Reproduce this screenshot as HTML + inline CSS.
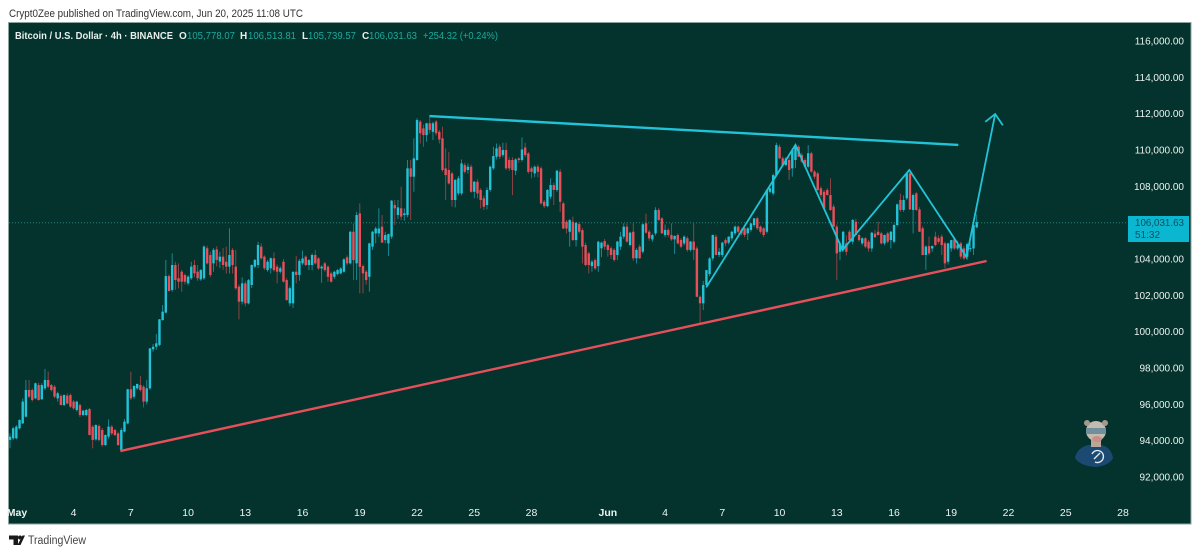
<!DOCTYPE html>
<html lang="en">
<head>
<meta charset="utf-8">
<title>Bitcoin / U.S. Dollar 4h chart</title>
<style>
html,body{margin:0;padding:0;background:#fff;width:1200px;height:554px;overflow:hidden}
svg{display:block}
text{font-family:"Liberation Sans","DejaVu Sans",sans-serif}
</style>
</head>
<body>
<svg id="chart" xmlns="http://www.w3.org/2000/svg" width="1200" height="554" viewBox="0 0 1200 554">
  <defs>
    <filter id="soften" x="-5%" y="-5%" width="110%" height="110%"><feGaussianBlur stdDeviation="0.35"/></filter>
  </defs>
  <text x="9" y="17" font-size="11" fill="#333" textLength="294" lengthAdjust="spacingAndGlyphs">Crypt0Zee published on TradingView.com, Jun 20, 2025 11:08 UTC</text>
  <rect x="8.5" y="22.5" width="1182.5" height="501.5" fill="#03332c" stroke="#8aa5a0" stroke-width="1"/>
  <g id="price-line-layer"></g>
  <g id="candles" filter="url(#soften)"></g>
  <g id="drawings" filter="url(#soften)"></g>
  <g id="y-axis"></g>
  <g id="x-axis"></g>
  <g font-size="10" font-weight="bold">
    <text x="15" y="39" fill="#e8efee" textLength="158" lengthAdjust="spacingAndGlyphs">Bitcoin / U.S. Dollar · 4h · BINANCE</text>
    <text x="179" y="39" fill="#e8efee">O</text>
    <text x="187" y="39" fill="#1fa89e" font-weight="normal" textLength="48" lengthAdjust="spacingAndGlyphs">105,778.07</text>
    <text x="240" y="39" fill="#e8efee">H</text>
    <text x="248" y="39" fill="#1fa89e" font-weight="normal" textLength="48" lengthAdjust="spacingAndGlyphs">106,513.81</text>
    <text x="302" y="39" fill="#e8efee">L</text>
    <text x="308" y="39" fill="#1fa89e" font-weight="normal" textLength="48" lengthAdjust="spacingAndGlyphs">105,739.57</text>
    <text x="362" y="39" fill="#e8efee">C</text>
    <text x="369" y="39" fill="#1fa89e" font-weight="normal" textLength="48" lengthAdjust="spacingAndGlyphs">106,031.63</text>
    <text x="423" y="39" fill="#1fa89e" font-weight="normal" textLength="75" lengthAdjust="spacingAndGlyphs">+254.32 (+0.24%)</text>
  </g>
  <g>
    <rect x="1128" y="216" width="61" height="26" fill="#0bb6d0"/>
    <text x="1135" y="226" font-size="10" fill="#0b5060" textLength="49" lengthAdjust="spacingAndGlyphs">106,031.63</text>
    <text x="1135" y="238" font-size="10" fill="#0b5060">51:32</text>
  </g>
  <g filter="url(#soften)">
    <path d="M1075 458 Q1077 448 1088 445 L1101 445 Q1111 447 1113 458 Q1110 465 1096 467 Q1080 466 1075 458 Z" fill="#1d4a72"/>
    <rect x="1091" y="439" width="10" height="8" fill="#b9a79c"/>
    <ellipse cx="1096" cy="431" rx="10" ry="10" fill="#c4bab0"/>
    <circle cx="1087" cy="423" r="3" fill="#a8988c"/>
    <circle cx="1105" cy="423" r="3" fill="#a8988c"/>
    <rect x="1086" y="428" width="20" height="6" rx="2" fill="#6f8f9c"/>
    <ellipse cx="1097" cy="439" rx="5" ry="3" fill="#c98f84"/>
    <path d="M1092 454 A6 6 0 1 1 1095 462" fill="none" stroke="#e6eef2" stroke-width="1.3"/>
    <line x1="1094" y1="459" x2="1100" y2="453" stroke="#e6eef2" stroke-width="1.3"/>
  </g>
  <g>
    <polygon fill="#1a1a1a" points="9,535.5 18,535.5 18,545 13.5,545 13.5,539.5 9,539.5"/>
    <circle cx="20" cy="537.5" r="2" fill="#1a1a1a"/>
    <polygon fill="#1a1a1a" points="22.5,535.5 25,535.5 20.5,545 17.5,545"/>
    <text x="28" y="544" font-size="11.5" fill="#444" textLength="58" lengthAdjust="spacingAndGlyphs">TradingView</text>
  </g>
</svg>
<script>
const opens=[94.04,94.13,94.13,94.68,94.95,95.32,96.79,96.79,96.33,97.06,
96.28,96.88,97.34,97.06,96.97,96.33,96.46,95.96,96.48,96.51,
96.15,95.69,95.96,95.41,95.41,95.74,94.77,94.07,94.81,94.59,
93.76,94.22,94.77,94.59,94.4,93.49,94.5,94.95,96.83,96.42,
96.88,97.06,96.97,96.15,96.88,99.03,99.17,99.27,100.64,101.05,
103.06,102.3,103.67,102.94,103.3,103.12,102.66,102.94,103.67,103.3,
102.88,102.94,104.59,104.22,103.76,104.53,103.86,104.13,103.85,103.58,
104.5,103.58,102.48,101.65,102.66,101.56,102.57,103.58,103.67,104.68,
104.13,103.39,103.49,104.04,103.58,103.3,103.85,102.84,101.56,101.56,
103.3,103.12,103.76,104.13,103.67,103.67,104.22,104.03,103.48,103.76,
103.58,103.21,103.02,103.17,103.21,103.3,104.09,103.76,105.5,103.76,
106.51,103.61,103.3,103.02,104.68,105.41,105.41,105.78,105.04,104.86,
105.23,106.97,106.42,106.79,106.42,106.42,108.99,108.53,109.45,111.56,
111.19,110.82,111.47,111.0,111.56,111.0,110.64,108.99,108.9,108.71,
107.25,107.61,107.61,109.17,108.9,109.08,107.7,108.25,107.8,107.34,
106.97,107.8,108.99,109.63,110.18,109.72,110.0,109.45,109.45,108.86,
109.54,109.45,110.14,109.81,108.99,108.71,109.08,108.99,107.15,106.91,
107.43,108.07,107.8,108.8,107.06,106.05,105.5,106.05,105.04,105.92,
105.59,104.77,104.31,103.61,103.94,103.61,104.59,104.99,104.77,104.59,
104.5,104.22,104.68,105.23,105.78,104.77,105.5,104.04,104.68,104.4,
105.97,105.5,105.08,105.41,106.7,106.24,105.32,105.6,105.32,105.08,
105.32,105.05,104.86,105.14,104.5,104.96,104.58,101.92,101.56,102.57,
103.17,104.03,105.23,104.22,104.22,105.04,104.9,105.14,105.41,105.78,
105.59,105.69,105.41,105.6,105.87,106.24,105.78,105.69,105.5,107.7,
107.61,108.62,110.18,109.54,109.17,109.45,108.99,109.45,110.18,109.72,
109.45,109.08,109.82,108.81,108.71,107.89,107.7,107.8,107.52,106.88,
105.78,104.4,104.5,104.86,105.5,104.95,106.05,105.32,104.86,105.14,
104.95,104.58,105.4,105.5,105.41,104.86,105.41,105.04,104.95,105.87,
107.25,106.7,107.34,108.71,106.7,107.61,106.73,105.69,104.22,104.71,
104.58,105.23,105.14,105.23,104.86,103.85,104.58,105.08,104.58,104.86,
104.58,104.13,104.58,104.58,105.74];
const highs=[94.40,94.77,94.86,95.17,96.33,97.34,97.34,96.88,97.19,97.19,
97.16,97.95,97.8,97.12,97.06,96.7,96.55,96.55,96.6,96.6,
96.24,96.2,96.05,95.7,95.75,95.8,94.86,94.9,94.9,94.7,
94.35,95.17,94.86,94.65,94.5,94.7,95.19,96.85,97.8,97.05,
97.15,97.56,97.05,97.34,99.1,99.32,99.87,100.7,101.47,103.95,
103.15,104.31,103.85,103.76,103.4,103.2,103.1,103.85,103.95,103.67,
103.45,104.75,104.72,104.4,104.6,104.7,104.4,104.6,104.68,105.69,
104.6,104.5,102.6,102.99,102.8,102.9,103.7,104.0,104.95,104.86,
104.2,103.95,104.1,104.37,103.7,103.6,104.0,102.95,102.5,103.3,
104.16,104.0,104.46,104.2,104.0,104.31,104.49,104.1,103.65,103.85,
103.65,103.3,103.35,103.45,103.55,104.05,104.2,105.55,105.96,106.6,
107.06,103.7,103.4,104.9,105.55,105.78,106.79,106.42,105.5,105.4,
107.25,107.25,107.25,107.98,106.79,109.45,109.45,110.64,111.75,111.65,
111.4,111.5,111.83,111.56,111.65,111.1,111.28,110.09,109.9,108.8,
108.4,108.57,109.48,109.3,109.26,109.2,108.3,108.38,107.9,107.5,
107.94,109.15,110.18,110.36,110.3,110.4,110.4,109.6,109.6,109.55,
109.6,110.69,110.4,109.9,109.1,109.15,109.2,109.1,107.25,107.85,
108.44,108.2,108.9,108.95,107.15,106.15,106.2,106.33,106.05,106.05,
105.7,104.9,104.4,103.95,104.03,105.0,104.95,105.1,104.85,104.7,
104.6,105.0,105.5,105.97,105.97,105.5,105.97,104.6,104.8,105.95,
106.5,105.6,105.4,106.85,106.8,106.3,105.9,105.7,105.97,105.3,
105.4,105.15,105.3,105.25,105.0,105.97,104.7,102.0,102.8,103.4,
104.1,105.35,105.35,104.6,104.95,105.15,105.25,105.55,105.85,105.85,
105.7,105.75,105.75,105.97,106.24,106.33,105.85,105.75,107.85,107.95,
108.7,110.4,110.3,109.65,109.6,109.6,110.1,110.27,110.27,109.85,
109.55,110.27,109.9,108.9,108.8,108.0,107.8,107.9,108.44,107.0,
105.9,104.95,105.55,105.3,105.6,106.2,106.2,105.4,105.2,105.2,
105.05,105.5,105.6,106.05,105.5,105.35,105.5,105.55,105.95,107.05,
107.6,107.5,108.72,108.9,107.6,107.7,106.85,105.8,104.75,105.23,
104.75,105.5,105.3,105.35,104.95,104.9,105.05,105.2,105.0,104.95,
104.7,104.9,104.9,106.0,106.46];
const lows=[93.58,94.04,94.07,94.62,94.92,95.28,96.33,96.15,96.28,96.2,
96.24,96.79,96.88,96.7,96.33,96.15,95.95,95.9,96.0,95.8,
95.7,95.6,95.3,95.35,95.35,94.3,93.58,94.0,93.95,93.67,
93.7,94.1,94.3,94.25,93.7,93.45,94.45,94.9,96.24,96.3,
96.8,96.7,95.83,96.0,96.8,98.9,99.0,99.2,100.6,101.0,
102.2,102.2,102.3,102.38,102.2,102.6,102.55,102.85,103.0,102.8,
102.8,102.85,103.7,103.0,103.3,103.6,103.5,103.4,103.2,103.2,
103.2,102.3,100.68,101.5,101.4,101.5,102.4,103.5,103.5,103.95,
103.4,103.3,103.2,103.3,102.66,103.2,102.7,101.7,101.4,101.3,
102.66,102.8,103.67,103.6,103.39,103.39,103.7,103.4,102.69,103.3,
102.75,102.7,102.9,103.1,103.15,103.25,103.65,103.7,102.84,102.84,
102.11,102.11,102.6,102.2,104.5,104.86,105.2,104.9,104.86,104.16,
105.1,105.87,106.2,106.14,106.11,106.3,106.14,107.7,109.4,110.36,
110.18,110.46,110.9,110.55,110.8,110.36,108.8,107.25,108.1,106.88,
106.84,107.5,107.5,108.7,108.7,107.65,107.34,107.34,106.79,106.7,
106.73,107.7,108.9,109.48,109.5,109.6,108.9,108.85,107.52,108.62,
109.3,109.35,109.6,108.7,108.44,108.5,108.5,107.0,106.8,106.85,
107.3,106.97,107.7,106.6,105.65,105.41,104.68,105.0,104.68,105.4,
103.76,103.6,103.21,103.3,103.39,103.3,104.1,104.5,104.13,104.0,
103.85,103.95,104.5,105.1,104.9,104.7,103.9,103.76,104.0,104.3,
105.4,105.0,104.95,105.3,106.1,105.4,105.2,105.2,105.0,104.28,
104.8,104.6,104.75,104.4,104.4,103.95,101.9,100.46,101.19,102.4,
103.05,103.9,104.2,104.1,104.1,104.7,104.8,105.0,105.3,105.4,
105.3,105.2,105.04,105.5,105.75,105.6,105.4,105.2,105.4,107.6,
107.5,108.55,109.5,109.1,109.1,108.35,108.53,109.0,109.6,109.3,
109.05,109.0,108.75,108.4,107.75,107.4,106.7,107.5,106.65,105.75,
102.84,103.94,104.4,104.2,105.0,104.8,105.3,104.95,104.75,104.6,
104.4,104.4,105.15,105.3,104.8,104.75,104.85,104.58,104.85,105.8,
106.6,106.6,107.25,106.7,105.41,106.65,105.5,104.2,103.4,104.2,
104.4,104.7,104.85,104.22,103.49,103.7,104.4,104.5,104.5,104.0,
103.95,103.95,104.4,104.22,105.7];
const closes=[94.22,94.68,94.77,95.14,96.15,96.79,96.42,96.24,97.16,96.24,
97.06,97.34,96.97,96.79,96.42,96.61,95.96,96.51,96.05,95.87,
95.78,96.15,95.41,95.65,95.69,94.31,94.04,94.86,94.04,93.76,
94.31,94.77,94.4,94.31,93.76,94.59,95.05,96.83,96.33,97.01,
97.12,96.79,96.15,96.88,99.08,99.17,99.36,100.68,101.1,103.06,
102.24,103.67,102.84,102.75,102.75,102.75,103.03,103.58,103.21,102.94,
103.39,104.68,103.76,103.12,104.5,103.95,104.13,103.67,103.58,104.22,
103.67,102.39,101.65,102.66,101.56,102.84,103.67,103.95,104.77,104.04,
103.49,103.85,104.04,103.39,103.3,103.49,102.75,101.74,102.39,103.3,
103.12,103.9,104.03,103.67,103.94,104.22,103.76,103.48,103.58,103.39,
103.02,102.75,103.3,103.39,103.48,103.98,103.76,105.5,103.94,106.42,
103.57,103.21,102.84,104.86,105.5,105.68,105.68,104.9,105.32,105.37,
107.21,106.79,106.84,106.33,106.51,108.99,108.53,109.54,111.65,110.92,
110.82,111.47,111.1,111.47,110.92,110.58,108.9,108.62,108.16,107.25,
108.35,108.44,109.26,108.8,109.08,107.7,108.25,107.61,107.25,106.88,
107.8,109.08,109.67,110.09,109.63,110.0,108.99,108.99,108.9,109.48,
109.45,110.03,109.72,108.8,108.8,109.08,108.8,107.06,106.91,107.8,
108.07,107.8,108.86,107.15,105.68,105.68,106.14,105.04,105.99,105.5,
104.68,103.67,103.67,103.85,103.48,104.95,104.9,104.68,104.5,104.22,
103.95,104.96,105.23,105.78,104.96,105.45,104.04,104.5,104.04,105.91,
105.45,105.14,105.32,106.7,106.15,105.41,105.6,105.32,105.08,105.27,
104.86,104.68,105.23,104.5,104.96,104.5,101.92,101.56,102.57,103.39,
104.03,105.32,104.22,104.4,104.9,104.86,105.23,105.5,105.78,105.5,
105.41,105.32,105.69,105.96,106.24,105.69,105.5,105.32,107.8,107.89,
108.62,110.27,109.54,109.17,109.54,108.9,110.0,110.18,109.63,109.36,
109.08,109.82,108.81,108.53,107.8,107.52,106.79,107.52,106.7,105.78,
104.31,104.86,105.5,104.4,105.04,106.15,105.32,105.04,105.14,104.68,
104.58,105.45,105.2,105.32,104.86,105.32,104.95,105.5,105.87,107.01,
106.7,107.25,108.71,106.73,107.52,106.7,105.5,104.22,104.68,104.31,
104.71,104.77,104.95,104.77,103.76,104.86,105.04,104.58,104.77,104.13,
104.03,104.82,104.6,105.87,106.03];

const priceTicks=[116,114,112,110,108,106,104,102,100,98,96,94,92];
const timeTickDays=[0,3,6,9,12,15,18,21,24,27,31,34,37,40,43,46,49,52,55,58];
const timeTickLabels=["May","4","7","10","13","16","19","22","25","28","Jun","4","7","10","13","16","19","22","25","28"];
const lastPrice=[106.03];

const supportBars=[34.7,307.1];
const supportPrices=[93.43,103.89];
const resistanceBars=[131.9,298.2];
const resistancePrices=[111.87,110.28];
const zigzagBars=[219,247,261.8,282.8,300.8,309.8];
const zigzagPrices=[102.46,110.28,104.5,108.9,104.11,111.98];
const arrowBars=[306.7,309.8,312.2];
const arrowPrices=[111.55,111.98,111.36];

const NS='http://www.w3.org/2000/svg';
function xBar(i){return 10+i*3.18;}
function xDay(d){return xBar(2+d*6);}
function yPrice(p){return 41+(116-p)*18.167;}
function make(tag,attrs,parent){
  const el=document.createElementNS(NS,tag);
  for(const k in attrs){el.setAttribute(k,attrs[k]);}
  parent.appendChild(el);
  return el;
}

const candleLayer=document.getElementById('candles');
for(let i=0;i<opens.length;i++){
  const up=closes[i]>=opens[i];
  const x=xBar(i);
  const wick=make('line',{x1:x,x2:x,y1:yPrice(highs[i]),y2:yPrice(lows[i]),stroke:up?'#1b8f9e':'#9a4548','stroke-width':0.9},candleLayer);
  
  
  const top=yPrice(Math.max(opens[i],closes[i]));
  const bottom=yPrice(Math.min(opens[i],closes[i]));
  const body=make('rect',{x:x-1.2,y:top,width:2.4,height:Math.max(bottom-top,1),fill:up?'#22c3d8':'#e8505a'},candleLayer);
  
  
}

const priceLineLayer=document.getElementById('price-line-layer');
const priceLine=make('line',{x1:9,x2:1128,y1:yPrice(lastPrice[0])+0.6,y2:yPrice(lastPrice[0])+0.6,stroke:'#23867e','stroke-width':1,'stroke-dasharray':'1 2'},priceLineLayer);



const drawings=document.getElementById('drawings');
function pathOf(bars,prices){
  return bars.map(function(b,k){return xBar(b)+','+yPrice(prices[k]);}).join(' ');
}
const zigzag=make('polyline',{points:pathOf(zigzagBars,zigzagPrices),fill:'none',stroke:'#22c3d8','stroke-width':1.8,'stroke-linejoin':'miter'},drawings);


const arrow=make('polyline',{points:pathOf(arrowBars,arrowPrices),fill:'none',stroke:'#22c3d8','stroke-width':1.8},drawings);


const resistance=make('polyline',{points:pathOf(resistanceBars,resistancePrices),fill:'none',stroke:'#22c3d8','stroke-width':2.4},drawings);


const support=make('polyline',{points:pathOf(supportBars,supportPrices),fill:'none',stroke:'#e8505a','stroke-width':2.4},drawings);



const yAxis=document.getElementById('y-axis');
priceTicks.forEach(function(p){
  const t=make('text',{x:1184,y:yPrice(p)+3.5,'text-anchor':'end','font-size':10,fill:'#eef3f2'},yAxis);
  
  
  t.textContent=(p*1000).toLocaleString('en-US',{minimumFractionDigits:2,maximumFractionDigits:2});
});

const xAxis=document.getElementById('x-axis');
timeTickDays.forEach(function(d,k){
  const isMonth=timeTickLabels[k].length===3;
  const t=make('text',{x:k===0?17:xDay(d),y:516,'text-anchor':'middle','font-size':10.5,'font-weight':isMonth?'bold':'normal',fill:'#eef3f2'},xAxis);
  
  
  t.textContent=timeTickLabels[k];
});
</script>
</body>
</html>
